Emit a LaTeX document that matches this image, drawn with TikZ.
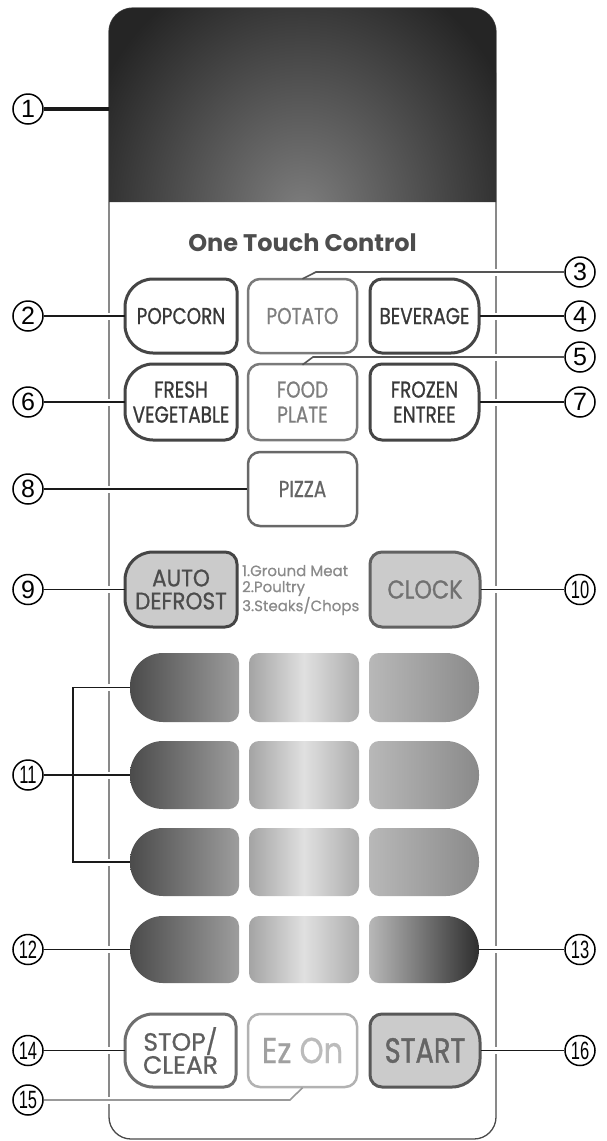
\documentclass[tikz,border=0pt]{standalone}
\usepackage{fontspec}
\newfontfamily\pop{Poppins}
\newfontfamily\popa[FakeBold=0.5]{Poppins}
\newfontfamily\popc[FakeStretch=0.8,FakeBold=0.8]{Poppins}
\newfontfamily\popd[FakeStretch=0.9,FakeBold=0.8]{Poppins}
\newfontfamily\popk[FakeStretch=0.86,FakeBold=0.8]{Poppins}
\newfontfamily\popst[FakeBold=0.8]{Poppins}
\newfontfamily\pope[FakeStretch=0.85,FakeBold=0.6]{Poppins}
\newfontfamily\pops[FakeStretch=0.78,FakeBold=1.2]{Poppins}
\newfontfamily\numf{Liberation Sans}
\newfontfamily\numcf[FakeStretch=0.66]{Liberation Sans}
\definecolor{ld}{HTML}{1A1A1A}
\definecolor{ldg}{HTML}{555555}
\definecolor{ldl}{HTML}{999999}
\definecolor{pb}{HTML}{4A4A4A}
\definecolor{bdk}{HTML}{454545}
\definecolor{bgr}{HTML}{7A7A7A}
\definecolor{tdk}{HTML}{383838}
\definecolor{tgr}{HTML}{7E7E7E}
\definecolor{bfill}{HTML}{CBCBCB}
\definecolor{disp0}{HTML}{252525}
\definecolor{dispc}{HTML}{7E7E7E}
\definecolor{kl1}{HTML}{4B4B4B}
\definecolor{kl2}{HTML}{9D9D9D}
\definecolor{km1}{HTML}{A4A4A4}
\definecolor{km2}{HTML}{E0E0E0}
\definecolor{km3}{HTML}{ACACAC}
\definecolor{kr1}{HTML}{B8B8B8}
\definecolor{kr2}{HTML}{8A8A8A}
\definecolor{kr3}{HTML}{2E2E2E}
\definecolor{ezA}{HTML}{A0A0A0}
\definecolor{ezB}{HTML}{BBBBBB}
\definecolor{otc}{HTML}{4D4D4D}
\definecolor{adl}{HTML}{8A8A8A}
\newcommand\rr[8]{(#1+#5,#2) -- (#3-#6,#2) arc[start angle=270,end angle=360,radius=#6] -- (#3,#4-#7) arc[start angle=0,end angle=90,radius=#7] -- (#1+#8,#4) arc[start angle=90,end angle=180,radius=#8] -- (#1,#2+#5) arc[start angle=180,end angle=270,radius=#5] -- cycle}
\begin{document}
\begin{tikzpicture}[x=1pt,y=-1pt,
  lead/.style={draw=ld, line width=1.8},
  leadg/.style={draw=ldg, line width=1.6},
  leadl/.style={draw=ldl, line width=1.6},
  cn/.style={circle, draw=black, line width=1.5, minimum size=30, inner sep=0, font=\numf\fontsize{25}{25}\selectfont},
  cnn/.style={cn, font=\numcf\fontsize{25}{25}\selectfont},
  bd/.style={draw=bdk, line width=3, fill=white},
  bg/.style={draw=bgr, line width=2.5, fill=white},
  hit/.style={inner sep=0, minimum width=111, minimum height=74, align=center},
  hitk/.style={inner sep=0, minimum width=109, minimum height=69},
  tl/.style={hit, font=\popc\fontsize{23}{25}\selectfont}]
\useasboundingbox (0,0) rectangle (607,1141);
% panel
\path[draw=pb, line width=1.3, fill=white] \rr{109}{8}{496}{1139}{24}{24}{22}{22};
\begin{scope}
\clip \rr{109}{8}{496}{202}{24}{24}{0.01}{0.01};
\fill[disp0] (109,8) rectangle (496,202);
\shade[inner color=dispc, outer color=disp0] (302,215) ellipse [x radius=230, y radius=265];
\end{scope}
\node[inner sep=0, minimum width=387, minimum height=194] (disp) at (302.5,105) {};
% gaps in the panel edge
\foreach \yy in {316,402,489,589.5,687.5,775,862,949.5,1050.5,1100}
  \fill[white] (106,\yy-3.5) rectangle (112,\yy+3.5);
\foreach \yy in {272,316,357,402,589.5,949.5,1050.5}
  \fill[white] (493,\yy-3.5) rectangle (499,\yy+3.5);
% title
\node[font=\pop\bfseries\fontsize{24}{24}\selectfont, text=otc] (title) at (302.5,243) {One Touch Control};
% one touch buttons
\path[bd] \rr{125}{279}{237}{353}{28}{12}{12}{28};
\path[bg] \rr{248}{279}{357}{353}{12}{12}{12}{12};
\path[bd] \rr{370}{279}{479}{353}{12}{28}{28}{12};
\path[bd] \rr{125}{364}{237}{440}{28}{12}{12}{28};
\path[bg] \rr{248}{364}{357}{440}{12}{12}{12}{12};
\path[bd] \rr{370}{364}{479}{440}{12}{28}{28}{12};
\path[draw=bgr!85!black, line width=2.5, fill=white] \rr{248}{452}{357}{526}{12}{12}{12}{12};
\node[tl, text=tdk] (popcorn) at (181,316) {POPCORN};
\node[tl, text=tgr] (potato) at (302.5,316) {POTATO};
\node[tl, text=tdk] (beverage) at (424.5,316) {BEVERAGE};
\node[tl, text=tdk] (fresh) at (181,402) {FRESH\\VEGETABLE};
\node[tl, text=tgr] (food) at (302.5,402) {FOOD\\PLATE};
\node[tl, text=tdk] (frozen) at (424.5,402) {FROZEN\\ENTREE};
\node[tl, text=tgr!80!black] (pizza) at (302.5,489) {PIZZA};
% auto defrost, clock
\path[bd, fill=bfill] \rr{125}{552}{237}{627}{28}{12}{12}{28};
\path[draw=bgr!80!black, line width=3, fill=bfill] \rr{370}{552}{480}{627}{12}{28}{28}{12};
\node[hit, text=tdk!90!white, font=\popd\fontsize{24}{23}\selectfont] (auto) at (181,589.5) {AUTO\\DEFROST};
\node[hit, text=tgr!90!black, font=\popk\fontsize{26}{26}\selectfont] (clock) at (425,589.5) {CLOCK};
\node[anchor=west, align=left, inner sep=0, text=adl, font=\popa\fontsize{15}{16}\selectfont] (adlist) at (242,590) {1.Ground Meat\\2.Poultry\\3.Steaks/Chops};
% number keys
\foreach \ya/\yb in {653/722,741/809,828/896,916/983}{
  \shade[left color=kl1, right color=kl2] \rr{130}{\ya}{239}{\yb}{33}{10}{10}{33};
  \shade[left color=km1, right color=km3, middle color=km2] \rr{249}{\ya}{359}{\yb}{10}{10}{10}{10};
}
\foreach \ya/\yb in {653/722,741/809,828/896}
  \shade[left color=kr1, right color=kr2] \rr{369}{\ya}{479}{\yb}{10}{33}{33}{10};
\shade[left color=kr1, right color=kr3] \rr{369}{916}{479}{983}{10}{33}{33}{10};
\node[hitk] (k11) at (184.5,687.5) {};
\node[hitk] (k12) at (304,687.5) {};
\node[hitk] (k13) at (424,687.5) {};
\node[hitk] (k21) at (184.5,775) {};
\node[hitk] (k22) at (304,775) {};
\node[hitk] (k23) at (424,775) {};
\node[hitk] (k31) at (184.5,862) {};
\node[hitk] (k32) at (304,862) {};
\node[hitk] (k33) at (424,862) {};
\node[hitk] (k41) at (184.5,949.5) {};
\node[hitk] (k42) at (304,949.5) {};
\node[hitk] (k43) at (424,949.5) {};
% bottom row
\path[draw=bgr!90!black, line width=3, fill=white] \rr{125}{1014}{236}{1087}{28}{12}{12}{28};
\path[draw=ezB!95!black, line width=2.5, fill=white] \rr{248}{1014}{357}{1087}{12}{12}{12}{12};
\path[draw=bdk!90!white, line width=3, fill=bfill] \rr{370}{1014}{480}{1087}{12}{28}{28}{12};
\node[hit, text=tgr!75!black, font=\popst\fontsize{25}{23}\selectfont] (stop) at (180.5,1050.5) {STOP/\\CLEAR};
\node[hit, font=\pope\fontsize{36}{36}\selectfont] (ezon) at (302.5,1050.5) {\textcolor{ezA}{Ez} \textcolor{ezB}{On}};
\node[hit, text=tgr!80!black, font=\pops\fontsize{35}{35}\selectfont] (start) at (425,1050.5) {START};
% callout circles
\node[cn] (c1) at (28,109) {1};
\node[cn] (c2) at (28,316) {2};
\node[cn] (c3) at (580,272) {3};
\node[cn] (c4) at (580,316) {4};
\node[cn] (c5) at (580,357) {5};
\node[cn] (c6) at (28,402) {6};
\node[cn] (c7) at (580,402) {7};
\node[cn] (c8) at (28,489) {8};
\node[cn] (c9) at (28,589.5) {9};
\node[cnn] (c10) at (580,589.5) {10};
\node[cnn] (c11) at (28,775) {11};
\node[cnn] (c12) at (28,949.5) {12};
\node[cnn] (c13) at (580,949.5) {13};
\node[cnn] (c14) at (28,1050.5) {14};
\node[cnn] (c15) at (28,1100) {15};
\node[cnn] (c16) at (580,1050.5) {16};
% leaders
\draw[lead, line width=3.8] (c1.east) -- (c1.east -| disp.west);
\draw[lead] (c2.east) -- (popcorn.west);
\coordinate (b3) at (316,272);
\draw[leadg] (potato.north) -- (b3) -- (c3.west);
\draw[lead] (beverage.east) -- (c4.west);
\coordinate (b5) at (313,357);
\draw[leadg] (food.north) -- (b5) -- (c5.west);
\draw[lead] (c6.east) -- (fresh.west);
\draw[lead] (frozen.east) -- (c7.west);
\draw[lead] (c8.east) -- (pizza.west);
\draw[lead] (c9.east) -- (auto.west);
\draw[lead] (clock.east) -- (c10.west);
\coordinate (brx) at (73,775);
\draw[lead] (c11.east) -- (k21.west);
\draw[lead] (k11.west) -- (k11.west -| brx) -- (k31.west -| brx) -- (k31.west);
\draw[lead] (c12.east) -- (k41.west);
\draw[lead] (k43.east) -- (c13.west);
\draw[lead] (c14.east) -- (stop.west);
\draw[lead] (start.east) -- (c16.west);
\coordinate (b15) at (290,1100);
\draw[leadl] (c15.east) -- (b15) -- (ezon.south);
\end{tikzpicture}
\end{document}
